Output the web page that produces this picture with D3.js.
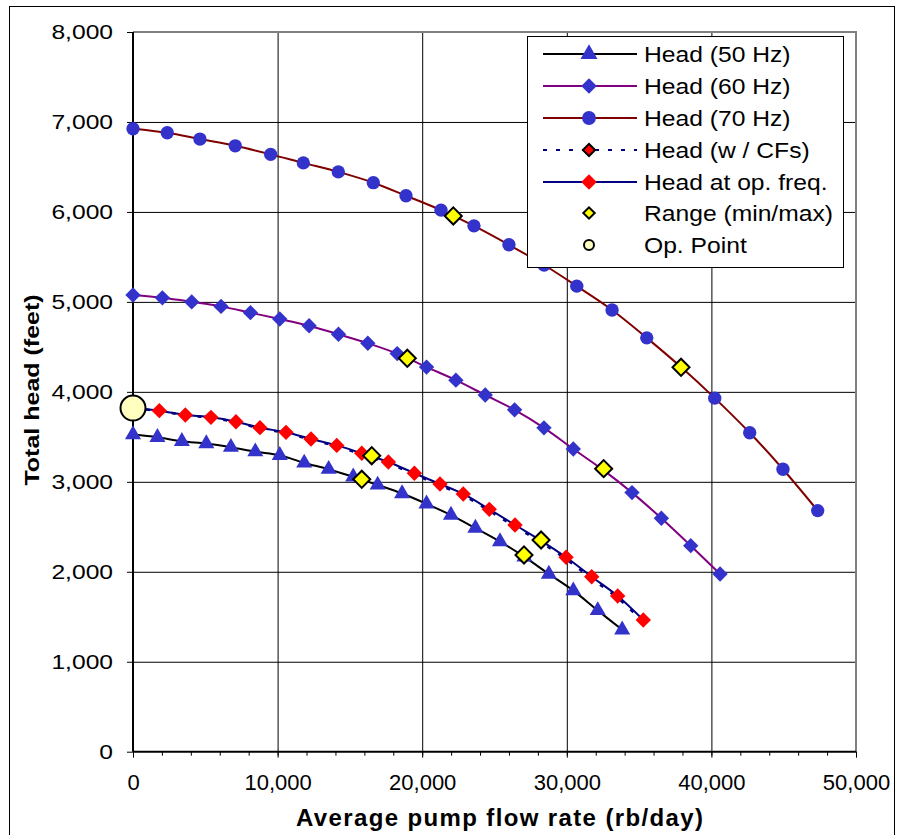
<!DOCTYPE html>
<html>
<head>
<meta charset="utf-8">
<script src="https://cdn.jsdelivr.net/npm/d3@7"></script>
<style>
  html, body { margin: 0; padding: 0; background: #fff; }
  svg { display: block; font-family: Arial, "Liberation Sans", sans-serif; }
</style>
</head>
<body>
<svg id="chart" width="900" height="835"></svg>
<script>
// ---------- DATA ----------
const flow50 = [0,1690,3380,5070,6770,8460,10150,11840,13530,15230,16920,18610,20300,21990,23680,25380,27070,28760,30450,32140,33830];
const head50 = [3525,3495,3450,3425,3385,3335,3295,3210,3140,3055,2965,2870,2755,2630,2485,2335,2165,1975,1790,1570,1355];

const flow60 = [0,2030,4060,6090,8120,10150,12180,14210,16240,18270,20300,22330,24360,26390,28420,30450,32480,34510,36540,38570,40600];
const head60 = [5077,5045,5000,4950,4880,4810,4735,4640,4540,4425,4275,4130,3965,3800,3600,3365,3135,2880,2595,2290,1975];

const flow70 = [0,2370,4630,7070,9520,11780,14200,16620,18880,21300,23580,26000,28430,30690,33130,35530,37900,40230,42650,44950,47350];
const head70 = [6925,6880,6810,6735,6640,6545,6445,6325,6180,6020,5845,5635,5410,5175,4910,4600,4275,3930,3545,3140,2680];

const flowOp = [0,1820,3620,5390,7120,8780,10580,12310,14090,15820,17660,19460,21230,22840,24640,26420,28180,29950,31720,33520,35290];
const headOp = [3820,3791,3743,3717,3668,3602,3550,3476,3405,3317,3220,3095,2976,2865,2694,2520,2350,2161,1945,1731,1464];

const flowCF = [0,1820,3620,5390,7120,8780,10580,12310,14090,15820,17660,19460,21230,22840,24640,26420,28180,29950,31720,33520,35060];
const headCF = [3815,3787,3739,3712,3662,3595,3542,3467,3395,3305,3207,3081,2961,2849,2677,2502,2331,2141,1924,1708,1480];

const rangeFlow = [22150,37900,18970,32550,16510,28220,15820,27040];
const rangeHead = [5955,4273,4373,3146,3290,2353,3028,2187];

const opFlow = [0];
const opHead = [3820];

const xTicks = [0,10000,20000,30000,40000,50000];
const yTicks = [0,1000,2000,3000,4000,5000,6000,7000,8000];

const legendLabels = ["Head (50 Hz)","Head (60 Hz)","Head (70 Hz)","Head (w / CFs)","Head at op. freq.","Range (min/max)","Op. Point"];
const xTitle = "Average pump flow rate (rb/day)";
const yTitle = "Total head (feet)";

// ---------- LAYOUT ----------
const svg = d3.select("#chart");
const L = 133, R = 856, T = 32, B = 751.7;
const x = d3.scaleLinear().domain([0,50000]).range([L,R]);
const y = d3.scaleLinear().domain([0,8000]).range([B,T]);

const BLUE = "#3333cc";
const zip = (a,b) => a.map((v,i)=>[v,b[i]]);

// outer frame
svg.append("rect").attr("x",9.5).attr("y",6.5).attr("width",885).attr("height",900)
  .attr("fill","none").attr("stroke","#000").attr("stroke-width",1);

// gridlines
svg.append("g").attr("transform",`translate(0,${B})`)
  .call(d3.axisBottom(x).tickValues(xTicks.slice(1,-1)).tickSize(-(B-T)).tickFormat(""))
  .call(g=>g.select(".domain").remove())
  .call(g=>g.selectAll("line").attr("stroke","#000").attr("stroke-width",1));
svg.append("g").attr("transform",`translate(${L},0)`)
  .call(d3.axisLeft(y).tickValues(yTicks.slice(1,-1)).tickSize(-(R-L)).tickFormat(""))
  .call(g=>g.select(".domain").remove())
  .call(g=>g.selectAll("line").attr("stroke","#000").attr("stroke-width",1));

// plot border top/right gray
svg.append("path").attr("d",`M${L},${T}H${R}V${B}`).attr("fill","none")
  .attr("stroke","#808080").attr("stroke-width",2);

// minor x ticks
svg.append("g").attr("transform",`translate(0,${B})`)
  .call(d3.axisBottom(x).tickValues(d3.range(0,50001,2000)).tickSize(4).tickFormat(""))
  .call(g=>g.select(".domain").remove())
  .call(g=>g.selectAll("line").attr("stroke","#000"));

// x axis
const stretch = (sel, f) => sel.each(function(){
  const w = this.getComputedTextLength();
  d3.select(this).attr("textLength", w*f).attr("lengthAdjust","spacingAndGlyphs");
});

const xa = svg.append("g").attr("transform",`translate(0,${B})`)
  .call(d3.axisBottom(x).tickValues(xTicks).tickSize(6).tickPadding(17).tickFormat(d3.format(",")));
xa.select(".domain").attr("stroke","#000").attr("stroke-width",2).attr("d",`M${L},0H${R}`);
xa.selectAll("line").attr("stroke","#000");
xa.selectAll("text").attr("font-size",22).attr("font-family","Arial, 'Liberation Sans', sans-serif").attr("fill","#000");

// y axis
const ya = svg.append("g").attr("transform",`translate(${L},0)`)
  .call(d3.axisLeft(y).tickValues(yTicks).tickSize(6).tickPadding(14).tickFormat(d3.format(",")));
ya.select(".domain").attr("stroke","#000").attr("stroke-width",2).attr("d",`M0,${T}V${B}`);
ya.selectAll("line").attr("stroke","#000");
ya.selectAll("text").attr("font-size",20).attr("font-family","Arial, 'Liberation Sans', sans-serif").attr("fill","#000");
stretch(ya.selectAll("text"), 1.23);

// axis titles
const xt = svg.append("text").attr("x",(296+703)/2).attr("y",826).attr("text-anchor","middle")
  .attr("font-size",24).attr("font-weight","bold").text(xTitle);
xt.attr("textLength",407).attr("lengthAdjust","spacing");

const yt = svg.append("text").attr("transform","translate(39,390) rotate(-90)").attr("text-anchor","middle")
  .attr("font-size",20).attr("font-weight","bold").text(yTitle);
stretch(yt, 1.25);

// ---------- SERIES ----------
const line = d3.line().x(d=>x(d[0])).y(d=>y(d[1])).curve(d3.curveCatmullRom.alpha(0.5));

const tri = d3.symbol().type(d3.symbolTriangle).size(112);
const circ = d3.symbol().type(d3.symbolCircle).size(140);
const diam = d3.symbol().type(d3.symbolSquare).size(118);
const diamY = d3.symbol().type(d3.symbolSquare).size(145);

function series(data, color, sym, fill, rot){
  const g = svg.append("g");
  g.append("path").attr("d",line(data)).attr("fill","none").attr("stroke",color).attr("stroke-width",2);
  if (sym) g.selectAll("path.m").data(data).join("path").attr("class","m")
    .attr("d",sym).attr("fill",fill)
    .attr("transform",d=>`translate(${x(d[0])},${y(d[1])}) rotate(${rot})`);
  return g;
}
series(zip(flow50,head50), "#000", tri, BLUE, 0);
series(zip(flow60,head60), "#800080", diam, BLUE, 45);
series(zip(flow70,head70), "#800000", circ, BLUE, 0);
// CF dashed
svg.append("path").attr("d",line(zip(flowCF,headCF))).attr("fill","none")
  .attr("stroke","#000080").attr("stroke-width",2.5).attr("stroke-dasharray","4,9");
series(zip(flowOp,headOp), "#000080", diam, "#ff0000", 45);

// range
svg.append("g").selectAll("path").data(zip(rangeFlow,rangeHead)).join("path")
  .attr("d",diamY).attr("fill","#ffff00").attr("stroke","#000").attr("stroke-width",2)
  .attr("transform",d=>`translate(${x(d[0])},${y(d[1])}) rotate(45)`);
// op point
svg.append("g").selectAll("circle").data(zip(opFlow,opHead)).join("circle")
  .attr("cx",d=>x(d[0])).attr("cy",d=>y(d[1])).attr("r",12.5)
  .attr("fill","#ffffc0").attr("stroke","#000").attr("stroke-width",2);

// ---------- LEGEND ----------
const lg = svg.append("g");
lg.append("rect").attr("x",527.5).attr("y",36.5).attr("width",316).attr("height",231)
  .attr("fill","#fff").attr("stroke","#000").attr("stroke-width",1);
const rows = [54,86,118,150,182,213,245];
const lx1 = 543, lx2 = 637, mx = 589;
const legendSpec = [
  {stroke:"#000", sym:d3.symbol().type(d3.symbolTriangle).size(125), fill:BLUE, rot:0},
  {stroke:"#800080", sym:d3.symbol().type(d3.symbolSquare).size(120), fill:BLUE, rot:45},
  {stroke:"#800000", sym:d3.symbol().type(d3.symbolCircle).size(150), fill:BLUE, rot:0},
  {stroke:"#000080", dash:"4,9", sym:d3.symbol().type(d3.symbolSquare).size(75), fill:"#ff0000", rot:45, ms:"#000"},
  {stroke:"#000080", sym:d3.symbol().type(d3.symbolSquare).size(120), fill:"#ff0000", rot:45},
  {stroke:null, sym:d3.symbol().type(d3.symbolSquare).size(65), fill:"#ffff00", rot:45, ms:"#000"},
  {stroke:null, circle:5, fill:"#ffffc0", ms:"#000"}
];
legendSpec.forEach((s,i)=>{
  const cy = rows[i];
  if (s.stroke) lg.append("line").attr("x1",lx1).attr("x2",lx2).attr("y1",cy).attr("y2",cy)
    .attr("stroke",s.stroke).attr("stroke-width",2).attr("stroke-dasharray",s.dash||null);
  if (s.circle) lg.append("circle").attr("cx",mx).attr("cy",cy).attr("r",s.circle)
    .attr("fill",s.fill).attr("stroke",s.ms).attr("stroke-width",2);
  else lg.append("path").attr("d",s.sym).attr("fill",s.fill)
    .attr("stroke",s.ms||"none").attr("stroke-width",s.ms?2:0)
    .attr("transform",`translate(${mx},${cy}) rotate(${s.rot})`);
  const t = lg.append("text").attr("x",644).attr("y",cy).attr("dy","0.36em")
    .attr("font-size",22).attr("fill","#000").text(legendLabels[i]);
  stretch(t, 1.12);
});
</script>
</body>
</html>
